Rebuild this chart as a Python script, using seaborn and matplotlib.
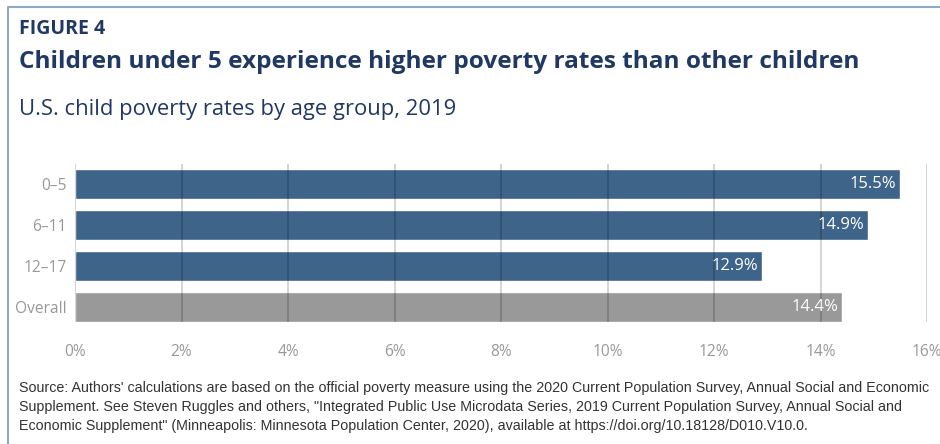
import pandas as pd
import numpy as np
import seaborn as sns
import matplotlib.pyplot as plt
from matplotlib.lines import Line2D

# Data
groups = ['0–5', '6–11', '12–17', 'Overall']
rates = [15.5, 14.9, 12.9, 14.4]
bar_colors = ['#3f6489', '#3f6489', '#3f6489', '#999999']
xticks = [0, 2, 4, 6, 8, 10, 12, 14, 16]

df = pd.DataFrame({'group': groups, 'rate': rates})

sns.set_theme(style='white')
plt.rcParams['font.family'] = ['Open Sans', 'DejaVu Sans']

fig = plt.figure(figsize=(9.4, 4.44), dpi=100)
ax = fig.add_axes([75 / 940, 1 - 322 / 444, (927 - 75) / 940, (322 - 164) / 444])

sns.barplot(data=df, x='rate', y='group', hue='group', palette=bar_colors,
            legend=False, width=0.73, saturation=1, ax=ax, zorder=1)

ax.set_xlim(0, 16)
ax.set_ylim(3.365, -0.49)
ax.set_xticks(xticks)
ax.set_xticklabels([f'{t}%' for t in xticks])
ax.set_xlabel('')
ax.set_ylabel('')
for t in xticks:
    ax.axvline(t, color='black', alpha=0.18, lw=1.3, zorder=3)
for s in ax.spines.values():
    s.set_visible(False)
ax.tick_params(axis='both', length=0, labelsize=11.2, labelcolor='#999999')
ax.tick_params(axis='x', pad=16)
ax.tick_params(axis='y', pad=6)

for i, r in enumerate(rates):
    ax.text(r - 0.07, i, f'{r}%', color='white', fontsize=12, ha='right',
            va='center', zorder=4)

# Titles
fig.text(19 / 940, 1 - 29 / 444, 'FIGURE 4', fontsize=14, fontweight='bold',
         color='#1f3864', va='center')
fig.text(19 / 940, 1 - 62 / 444, 'Children under 5 experience higher poverty rates than other children',
         fontsize=17.6, fontweight='bold', color='#1f3864', va='center')
fig.text(19 / 940, 1 - 110 / 444, 'U.S. child poverty rates by age group, 2019',
         fontsize=15.8, color='#1f3864', va='center')

source = ("Source: Authors' calculations are based on the official poverty measure using the 2020 Current Population Survey, Annual Social and Economic\n"
          "Supplement. See Steven Ruggles and others, \"Integrated Public Use Microdata Series, 2019 Current Population Survey, Annual Social and\n"
          "Economic Supplement\" (Minneapolis: Minnesota Population Center, 2020), available at https://doi.org/10.18128/D010.V10.0.")
fig.text(19 / 940, 1 - 407 / 444, source, fontsize=10.3, color='#333333',
         va='center', linespacing=1.42, family=['Liberation Sans', 'DejaVu Sans'])

# Frame lines on left and top
fig.add_artist(Line2D([8 / 940, 8 / 940, 1], [0, 1 - 7 / 444, 1 - 7 / 444],
                      transform=fig.transFigure, color='#8fa8c6', lw=1.5))

plt.savefig('out.png', dpi=100)
